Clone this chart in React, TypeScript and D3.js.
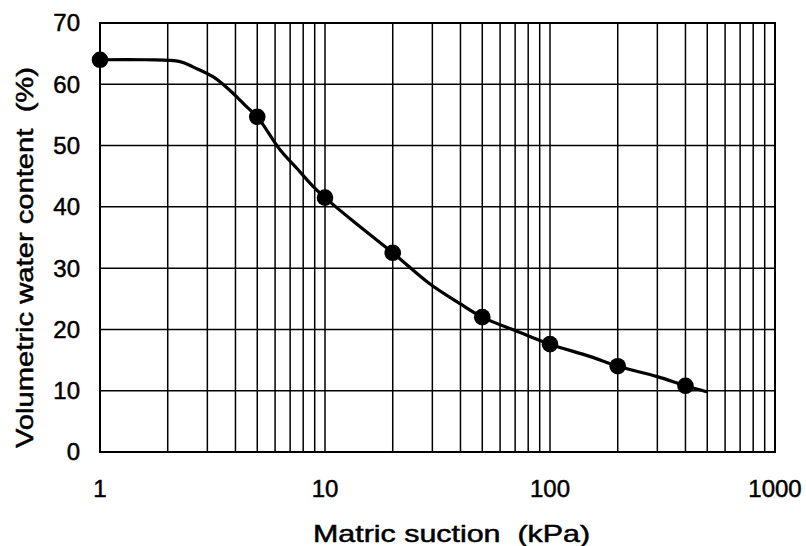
import React, { useEffect } from 'react'
import * as d3 from 'd3'

// measured points (suction kPa, water content %)
const suction = [1, 5, 10, 20, 50, 100, 200, 400]
const water = [64, 54.7, 41.5, 32.5, 22, 17.6, 14, 10.8]

// fitted curve
const curveSuction = [1, 1.6, 2.27, 2.6, 3.19, 3.91, 4.49, 5, 6.31, 7.49, 8.87, 10, 13.4, 20, 29.3, 39.8, 50, 73.6, 100, 150, 200, 300, 400, 500]
const curveWater = [64, 64, 63.7, 62.8, 61.2, 58.5, 56.3, 54.7, 49.3, 46.3, 43.3, 41.5, 37.6, 32.5, 27.4, 24.2, 22, 19.5, 17.6, 15.6, 14, 12.3, 10.8, 9.8]

const yTicks = [0, 10, 20, 30, 40, 50, 60, 70]
const xTicks = [1, 10, 100, 1000]

const W = 806
const H = 546
const left = 100, right = 775, top = 23, bottom = 452

const App = () => {
    useEffect(() => {
        document.body.style.margin = '0'
    }, [])

    const x = d3.scaleLog().domain([1, 1000]).range([left, right])
    const y = d3.scaleLinear().domain([0, 70]).range([bottom, top])

    // minor grid: 1..9 in every decade
    const vGrid: number[] = []
    for (let d = 1; d < 1000; d *= 10) {
        for (let k = 1; k < 10; k++) vGrid.push(d * k)
    }

    const line = d3.line<number>()
        .x((_, i) => x(curveSuction[i]))
        .y(d => y(d))
        .curve(d3.curveCatmullRom.alpha(0.5))

    const font = "'Liberation Sans', Arial, sans-serif"

    return (
        <svg width={W} height={H} style={{ display: 'block', background: '#fff' }}>
            <g stroke="#000" strokeWidth={1.5} fill="none">
                {vGrid.map(v => <line key={'v' + v} x1={x(v)} x2={x(v)} y1={top} y2={bottom} />)}
                {yTicks.map(t => <line key={'h' + t} x1={left} x2={right} y1={y(t)} y2={y(t)} />)}
                <rect x={left} y={top} width={right - left} height={bottom - top} strokeWidth={2} />
            </g>

            <path d={line(curveWater) || ''} fill="none" stroke="#000" strokeWidth={3.2} strokeLinejoin="round" />
            {suction.map((s, i) => (
                <circle key={s} cx={x(s)} cy={y(water[i])} r={8.3} fill="#000" />
            ))}

            <g fontFamily={font} fontSize={24} fill="#000" stroke="#000" strokeWidth={0.5}>
                {yTicks.map(t => (
                    <text key={t} x={80} y={y(t)} dy="0.35em" textAnchor="end">{t}</text>
                ))}
                {xTicks.map(t => (
                    <text key={t} x={x(t)} y={497} textAnchor="middle">{t}</text>
                ))}
                <text x={313} y={542} textLength={277} lengthAdjust="spacingAndGlyphs">{'Matric suction\u00a0 (kPa)'}</text>
                <text transform="translate(33,448) rotate(-90)" textLength={381} lengthAdjust="spacingAndGlyphs">{'Volumetric water content\u00a0 (%)'}</text>
            </g>
        </svg>
    )
}

export default App
